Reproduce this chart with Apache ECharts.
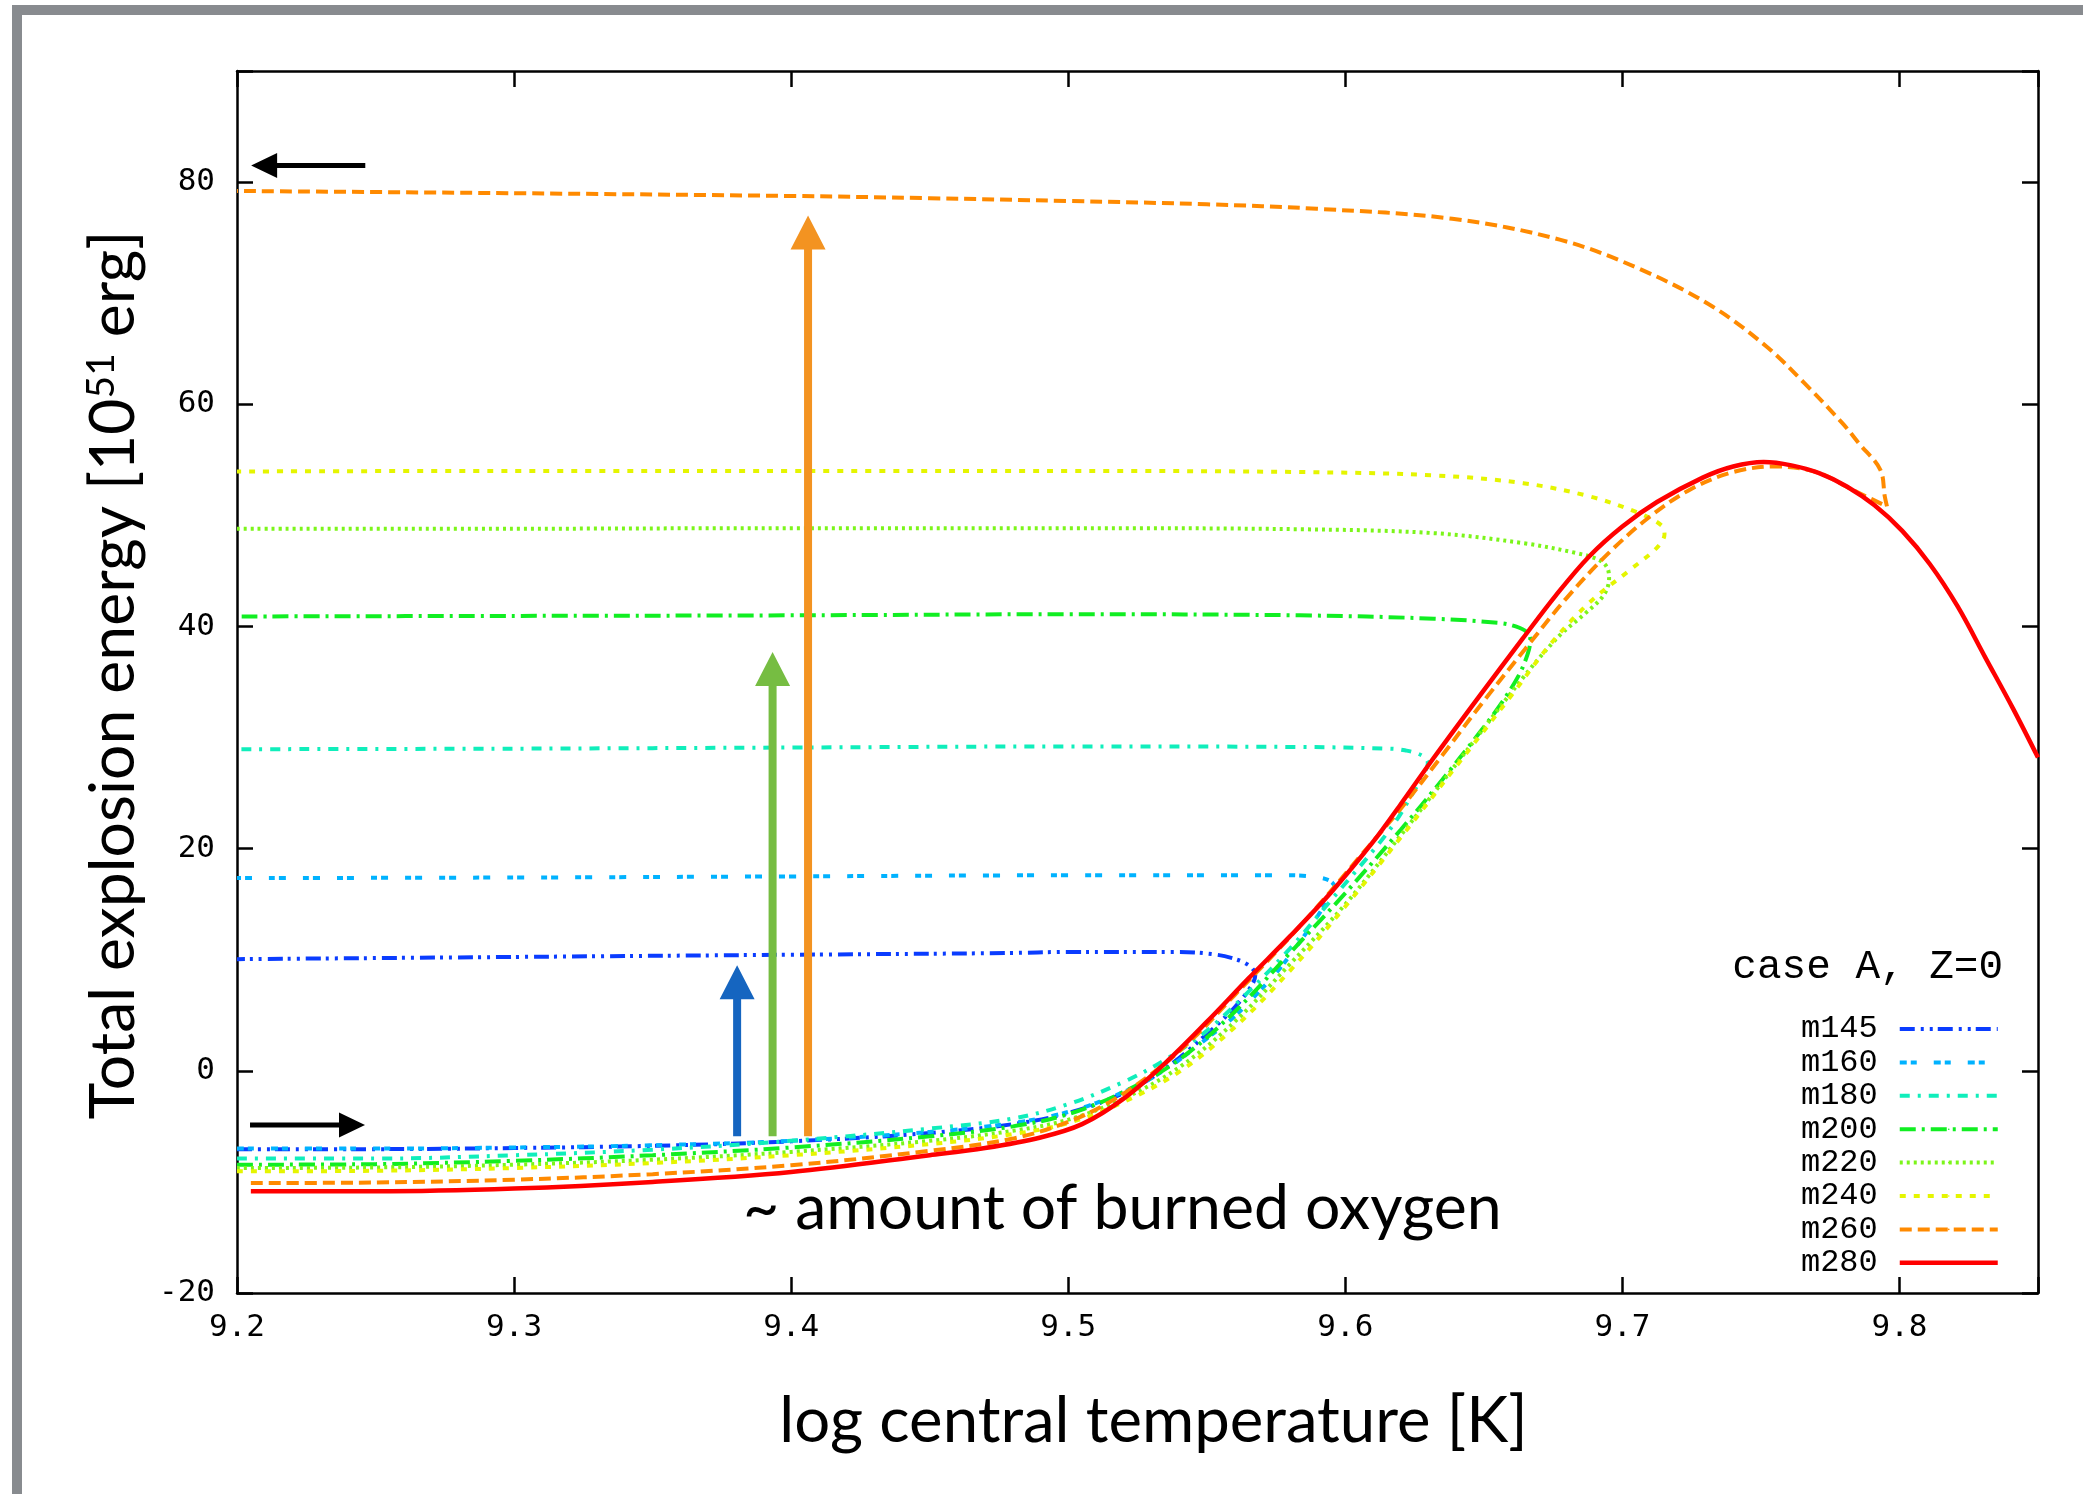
<!DOCTYPE html>
<html><head><meta charset="utf-8">
<script src="https://cdn.jsdelivr.net/npm/echarts@6/dist/echarts.min.js"></script>
<style>html,body{margin:0;padding:0;background:#fff;} #chart{width:2083px;height:1494px;}</style>
</head><body><div id="chart"></div>
<script>
// ---------------- data ----------------
const seriesNames = ['m145','m160','m180','m200','m220','m240','m260','m280'];

const m145 = [[9.2,-7.05],[9.25,-7.05],[9.3,-6.95],[9.35,-6.75],[9.4,-6.35],[9.45,-5.6],[9.48,-4.8],[9.5,-3.8],[9.52,-2.0],[9.535,0.2],[9.55,3.3],[9.56,5.7],[9.566,7.6],[9.5675,8.6],[9.5668,9.1],[9.5645,9.6],[9.561,10.0],[9.5536,10.45],[9.54,10.7],[9.5,10.7],[9.4778,10.6],[9.4,10.45],[9.3,10.25],[9.2,10.05]];
const m160 = [[9.2,-7.0],[9.25,-7.0],[9.3,-6.9],[9.35,-6.7],[9.4,-6.3],[9.45,-5.5],[9.48,-4.7],[9.5,-3.7],[9.52,-1.9],[9.535,0.1],[9.55,2.9],[9.56,4.9],[9.568,6.9],[9.575,8.8],[9.5812,10.8],[9.5878,13.1],[9.5935,15.3],[9.5962,16.5],[9.5945,17.1],[9.589,17.45],[9.58,17.6],[9.5,17.6],[9.4,17.5],[9.3,17.4],[9.2,17.35]];
const m180 = [[9.2,-7.9],[9.25,-7.9],[9.3,-7.6],[9.35,-7.1],[9.4,-6.3],[9.45,-5.2],[9.48,-4.3],[9.5,-3.0],[9.52,-1.0],[9.535,1.0],[9.55,3.6],[9.565,7.1],[9.58,11.0],[9.595,15.4],[9.6126,20.6],[9.6191,22.8],[9.6239,24.8],[9.628,26.6],[9.6298,27.7],[9.6275,28.4],[9.6215,28.85],[9.6158,29.0],[9.5836,29.15],[9.5,29.2],[9.4,29.1],[9.3,29.0],[9.2,28.95]];
const m200 = [[9.2,-8.45],[9.25,-8.4],[9.3,-8.1],[9.35,-7.6],[9.4,-6.9],[9.45,-5.9],[9.48,-5.0],[9.5,-3.9],[9.52,-1.9],[9.54,1.0],[9.56,5.3],[9.58,10.6],[9.6,16.0],[9.62,21.7],[9.635,26.2],[9.648,30.3],[9.6561,33.0],[9.6626,35.6],[9.6658,37.5],[9.6668,38.8],[9.6655,39.5],[9.6615,40.0],[9.6561,40.3],[9.632,40.7],[9.5836,41.0],[9.5,41.1],[9.4,41.0],[9.3,40.95],[9.2,40.9]];
const m220 = [[9.2,-8.75],[9.25,-8.7],[9.3,-8.45],[9.35,-8.0],[9.4,-7.3],[9.45,-6.3],[9.48,-5.4],[9.5,-4.4],[9.52,-2.5],[9.54,0.3],[9.56,4.4],[9.58,9.6],[9.6,15.0],[9.62,21.2],[9.64,27.6],[9.6642,35.4],[9.677,39.1],[9.6867,41.2],[9.6932,42.8],[9.6952,44.3],[9.6945,45.3],[9.6915,46.0],[9.6835,46.6],[9.6642,47.5],[9.632,48.4],[9.5836,48.75],[9.5,48.85],[9.4,48.85],[9.3,48.8],[9.2,48.8]];
const m240 = [[9.2,-9.05],[9.25,-9.0],[9.3,-8.75],[9.35,-8.3],[9.4,-7.6],[9.45,-6.6],[9.48,-5.7],[9.5,-4.7],[9.52,-2.8],[9.54,-0.1],[9.56,3.9],[9.58,9.0],[9.6,14.8],[9.62,21.0],[9.64,27.4],[9.66,33.8],[9.674,38.4],[9.6883,42.2],[9.7028,45.1],[9.7125,47.1],[9.7152,48.3],[9.7141,49.1],[9.706,50.2],[9.6883,51.7],[9.6642,52.9],[9.632,53.6],[9.5836,53.9],[9.5,54.0],[9.4,54.0],[9.3,54.0],[9.2,53.95]];
const m260 = [[9.205,-10.1],[9.25,-10.05],[9.3,-9.8],[9.35,-9.3],[9.4,-8.5],[9.45,-7.2],[9.48,-6.1],[9.5,-4.6],[9.515,-2.8],[9.53,-0.3],[9.545,2.9],[9.56,6.8],[9.575,10.7],[9.59,14.8],[9.605,19.2],[9.62,23.6],[9.635,28.4],[9.65,33.3],[9.665,38.0],[9.68,42.6],[9.695,46.6],[9.71,49.9],[9.725,52.4],[9.74,53.9],[9.755,54.4],[9.77,53.9],[9.783,52.3],[9.7955,50.8],[9.7947,51.7],[9.7931,54.1],[9.7853,56.5],[9.7794,58.3],[9.7657,61.9],[9.752,65.2],[9.7325,68.8],[9.707,72.1],[9.6777,74.8],[9.6386,76.7],[9.5897,77.6],[9.55,78.0],[9.5,78.3],[9.45,78.55],[9.4,78.75],[9.3,79.0],[9.2,79.2]];
const m280 = [[9.205,-10.85],[9.25,-10.85],[9.3,-10.6],[9.35,-10.0],[9.4,-9.1],[9.45,-7.6],[9.47,-6.95],[9.49,-6.0],[9.505,-4.8],[9.52,-2.5],[9.535,0.7],[9.55,4.4],[9.565,8.3],[9.58,12.1],[9.595,16.1],[9.61,20.6],[9.62,24.0],[9.632,28.2],[9.648,33.6],[9.664,38.9],[9.676,42.8],[9.688,46.3],[9.7,49.0],[9.7125,51.2],[9.729,53.4],[9.74,54.4],[9.751,54.8],[9.761,54.5],[9.771,53.8],[9.781,52.6],[9.791,50.9],[9.801,48.6],[9.811,45.6],[9.821,41.8],[9.831,37.2],[9.841,32.6],[9.85,28.2]];

// annotation arrows: [xStart, yStart, xTip, yTip]
const flowArrows = [[9.2463,81.5,9.2051,81.5],[9.2047,-4.88,9.2462,-4.88]];
const burnArrows = [[9.3805,-5.9,9.3805,9.5],[9.3933,-5.9,9.3933,37.7],[9.4061,-5.9,9.4061,77.0]];

// ---------------- styles ----------------
const seriesData = [m145,m160,m180,m200,m220,m240,m260,m280];
const colors = ['#0a3cff','#00b2ff','#10eebb','#11ee22','#7cf51a','#e5f500','#ff8a00','#ff0000'];
const dashes = [[15,6,3,6,3,5],[7,4,6,17],[10,8,3,8],[16,6,3,6],[3,4],[6,8],[12,6],'solid'];
const widths = [4,4,4,4,4,4,4,4.5];
const burnColors = ['#1565c0','#76bd42','#f39321'];

function arrowRenderer(styleFn){
  return function(params, api){
    const p0 = api.coord([api.value(0), api.value(1)]);
    const p1 = api.coord([api.value(2), api.value(3)]);
    const st = styleFn(params.dataIndex);
    const dx = p1[0]-p0[0], dy = p1[1]-p0[1];
    const len = Math.hypot(dx, dy) || 1;
    const ux = dx/len, uy = dy/len, nx = -uy, ny = ux;
    const bx = p1[0]-ux*st.headLen, by = p1[1]-uy*st.headLen;
    const sw = st.shaft/2, hw = st.headW/2;
    const pts = [
      [p0[0]+nx*sw, p0[1]+ny*sw],[bx+nx*sw, by+ny*sw],[bx+nx*hw, by+ny*hw],[p1[0],p1[1]],
      [bx-nx*hw, by-ny*hw],[bx-nx*sw, by-ny*sw],[p0[0]-nx*sw, p0[1]-ny*sw]
    ];
    return {type:'polygon', shape:{points:pts}, style:{fill:st.color}};
  };
}

const tickFont = 'DejaVu Sans Mono';
const axisLineStyle = {color:'#000', width:2.5};
function xAx(pos, labels){
  return {
    type:'value', position:pos, min:9.2, max:9.85, interval:0.1,
    axisLine:{show:true, onZero:false, lineStyle:axisLineStyle},
    axisTick:{show:true, inside:true, length:16, lineStyle:{color:'#000', width:2.5}},
    splitLine:{show:false},
    axisLabel:{show:labels, margin:19, color:'#000', fontFamily:tickFont, fontSize:31,
      formatter:v => (Math.abs(v*10-Math.round(v*10))<1e-6 && v < 9.84) ? v.toFixed(1) : ''}
  };
}
function yAx(pos, labels){
  return {
    type:'value', position:pos, min:-20, max:90, interval:20,
    axisLine:{show:true, onZero:false, lineStyle:axisLineStyle},
    axisTick:{show:true, inside:true, length:16, lineStyle:{color:'#000', width:2.5}},
    splitLine:{show:false},
    axisLabel:{show:labels, margin:22, color:'#000', fontFamily:tickFont, fontSize:31,
      formatter:v => (v % 20 === 0 && v < 90) ? String(v) : ''}
  };
}

const xBottom = xAx('bottom', true);
xBottom.name = 'log central temperature [K]';
xBottom.nameLocation = 'middle';
xBottom.nameGap = 97;
xBottom.nameMoveOverlap = false;
xBottom.nameTextStyle = {fontFamily:'Lato', fontSize:63.5, color:'#000', padding:[0,0,0,32]};

const yLeft = yAx('left', true);
yLeft.name = '{t|Total explosion energy [10}{s|51}{t| erg]}';
yLeft.nameLocation = 'middle';
yLeft.nameGap = 92;
yLeft.nameMoveOverlap = false;
yLeft.nameTextStyle = {fontFamily:'Lato', fontSize:62.5, color:'#000', padding:[0,0,0,14],
  rich:{t:{fontFamily:'Lato', fontSize:62.5, color:'#000'}, s:{fontFamily:'Lato', fontSize:39, color:'#000', verticalAlign:'top'}}};

const lineSeries = seriesNames.map((n,i) => ({
  name:n, type:'line', data:seriesData[i], xAxisIndex:0, yAxisIndex:0,
  symbol:'none', showSymbol:false, smooth:0.35, z:2,
  lineStyle:{color:colors[i], width:widths[i], type:dashes[i], cap:'butt'},
  itemStyle:{color:colors[i]},
  emphasis:{disabled:true}
}));

const option = {
  animation:false,
  backgroundColor:'#ffffff',
  grid:{left:237, right:45, top:71, bottom:201, outerBoundsMode:'none', containLabel:false},
  xAxis:[xBottom, xAx('top', false)],
  yAxis:[yLeft, yAx('right', false)],
  legend:{
    data:seriesNames, orient:'vertical', right:78, top:1008, align:'right',
    itemWidth:98, itemHeight:2, itemGap:1.4, selectedMode:false,
    textStyle:{fontFamily:'Liberation Mono', fontSize:32, color:'#000', lineHeight:32, padding:[0,17,0,0]},
    lineStyle:{width:'inherit', type:'inherit'}
  },
  graphic:[
    {type:'rect', shape:{x:12, y:5, width:2071, height:10}, style:{fill:'#888b8f'}, silent:true},
    {type:'rect', shape:{x:12, y:5, width:10, height:1489}, style:{fill:'#888b8f'}, silent:true},
    {type:'text', x:2003, y:967, style:{text:'case A, Z=0', font:'41px "Liberation Mono"', fill:'#000', align:'right', verticalAlign:'middle', textAlign:'right', textVerticalAlign:'middle'}, silent:true},
    {type:'text', x:743, y:1209, style:{text:'~ amount of burned oxygen', font:'62.5px Lato', fill:'#000', align:'left', verticalAlign:'middle', textAlign:'left', textVerticalAlign:'middle'}, silent:true}
  ],
  series: lineSeries.concat([
    {type:'custom', name:'flow', data:flowArrows, xAxisIndex:0, yAxisIndex:0, encode:{x:[0,2], y:[1,3]}, z:5, silent:true, clip:false,
      renderItem: arrowRenderer(() => ({color:'#000', shaft:5, headLen:26, headW:25}))},
    {type:'custom', name:'burn', data:burnArrows, xAxisIndex:0, yAxisIndex:0, encode:{x:[0,2], y:[1,3]}, z:5, silent:true, clip:false,
      renderItem: arrowRenderer(i => ({color:burnColors[i], shaft:8, headLen:34, headW:35}))}
  ])
};

const chart = echarts.init(document.getElementById('chart'), null, {renderer:'canvas'});
chart.setOption(option);
</script>
</body></html>
